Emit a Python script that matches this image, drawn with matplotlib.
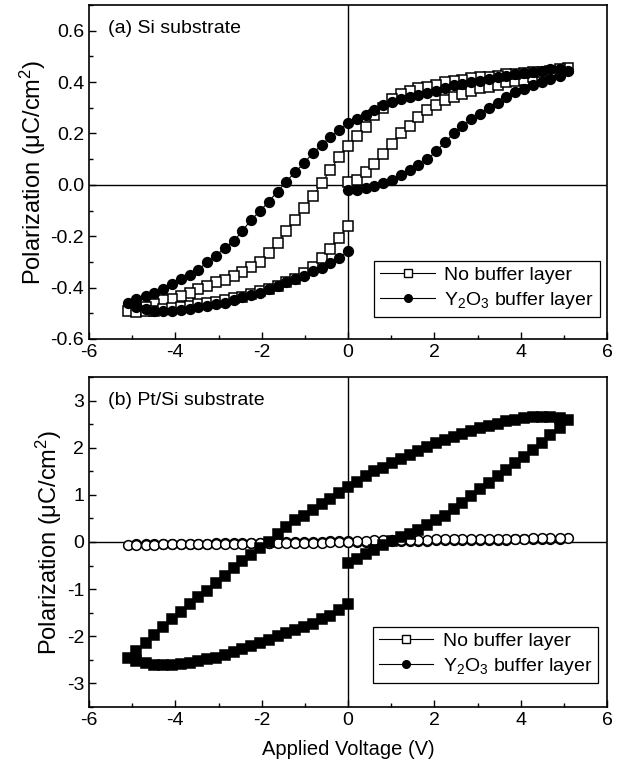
import matplotlib
matplotlib.use("Agg")
import matplotlib.pyplot as plt
from matplotlib.ticker import MultipleLocator

plt.rcParams['font.family'] = ['Liberation Sans', 'DejaVu Sans']
plt.rcParams['mathtext.fontset'] = 'custom'
plt.rcParams['mathtext.rm'] = 'Liberation Sans'
plt.rcParams['mathtext.it'] = 'Liberation Sans:italic'
plt.rcParams['axes.unicode_minus'] = False
plt.rcParams['font.size'] = 14

# voltage sweep of one branch, 0 -> +5.1 V
v_up = [0.0, 0.2, 0.41, 0.61, 0.82, 1.02, 1.22, 1.43, 1.63, 1.84, 2.04, 2.24, 2.45,
        2.65, 2.86, 3.06, 3.26, 3.47, 3.67, 3.88, 4.08, 4.28, 4.49, 4.69, 4.9, 5.1]
# full loop: 0 -> +5.1 -> -5.1 -> 0
v_loop = v_up + v_up[::-1][1:] + [-v for v in v_up[1:]] + [-v for v in v_up[::-1][1:]]

# (a) Si substrate, no buffer layer
a_nobuf_up = [0.01, 0.02, 0.05, 0.08, 0.12, 0.16, 0.2, 0.23, 0.265, 0.29, 0.31, 0.33, 0.34,
              0.355, 0.365, 0.375, 0.38, 0.39, 0.40, 0.405, 0.41, 0.42, 0.425, 0.435, 0.445, 0.455]
a_nobuf_dpos = [0.45, 0.445, 0.44, 0.44, 0.435, 0.43, 0.43, 0.425, 0.42, 0.42, 0.415, 0.41,
                0.405, 0.40, 0.39, 0.38, 0.375, 0.365, 0.355, 0.335, 0.30, 0.27, 0.225, 0.19, 0.15]
a_nobuf_dneg = [0.11, 0.058, 0.006, -0.045, -0.09, -0.135, -0.18, -0.226, -0.264, -0.30, -0.32,
                -0.34, -0.355, -0.37, -0.38, -0.393, -0.406, -0.42, -0.432, -0.445, -0.45,
                -0.464, -0.477, -0.484, -0.49]
a_nobuf_back = [-0.495, -0.49, -0.49, -0.485, -0.48, -0.475, -0.47, -0.465, -0.46, -0.455,
                -0.45, -0.44, -0.435, -0.425, -0.415, -0.405, -0.395, -0.38, -0.365, -0.345,
                -0.32, -0.285, -0.25, -0.205, -0.16]

# (a) Si substrate, Y2O3 buffer layer
a_y2o3_up = [-0.02, -0.02, -0.013, -0.006, 0.006, 0.02, 0.04, 0.058, 0.077, 0.1, 0.13, 0.165,
             0.2, 0.23, 0.255, 0.277, 0.3, 0.32, 0.34, 0.36, 0.374, 0.387, 0.40, 0.413, 0.425, 0.445]
a_y2o3_dpos = [0.452, 0.449, 0.445, 0.44, 0.436, 0.43, 0.425, 0.42, 0.413, 0.406, 0.40, 0.393,
               0.387, 0.376, 0.367, 0.358, 0.35, 0.342, 0.335, 0.322, 0.31, 0.29, 0.27, 0.258, 0.24]
a_y2o3_dneg = [0.213, 0.187, 0.155, 0.123, 0.084, 0.05, 0.013, -0.026, -0.065, -0.103, -0.135,
               -0.18, -0.22, -0.245, -0.277, -0.30, -0.33, -0.35, -0.367, -0.387, -0.406,
               -0.42, -0.432, -0.445, -0.458]
a_y2o3_back = [-0.477, -0.484, -0.49, -0.491, -0.49, -0.486, -0.484, -0.477, -0.47, -0.464,
               -0.458, -0.449, -0.438, -0.428, -0.42, -0.406, -0.393, -0.38, -0.367, -0.355,
               -0.335, -0.322, -0.303, -0.284, -0.258]

# (b) Pt/Si substrate, open circles
b_open_up = [0.0, 0.01, 0.01, 0.02, 0.02, 0.02, 0.03, 0.03, 0.03, 0.03, 0.04, 0.04, 0.04,
             0.04, 0.05, 0.05, 0.05, 0.05, 0.05, 0.06, 0.06, 0.06, 0.06, 0.07, 0.07, 0.08]
b_open_dpos = [0.08, 0.08, 0.08, 0.08, 0.07, 0.07, 0.07, 0.07, 0.07, 0.07, 0.06, 0.06, 0.06,
               0.06, 0.06, 0.05, 0.05, 0.05, 0.05, 0.04, 0.04, 0.04, 0.03, 0.03, 0.03]
b_open_dneg = [0.02, 0.02, 0.01, 0.01, 0.0, 0.0, -0.01, -0.01, -0.02, -0.02, -0.02, -0.03, -0.03,
               -0.03, -0.03, -0.04, -0.04, -0.04, -0.04, -0.05, -0.05, -0.05, -0.05, -0.05, -0.06]
b_open_back = [-0.06, -0.06, -0.06, -0.05, -0.05, -0.05, -0.05, -0.05, -0.04, -0.04, -0.04,
               -0.04, -0.04, -0.03, -0.03, -0.03, -0.03, -0.03, -0.02, -0.02, -0.02, -0.02,
               -0.01, -0.01, -0.01]

# (b) Pt/Si substrate, filled squares
b_fill_up = [-0.44, -0.35, -0.25, -0.16, -0.06, 0.03, 0.11, 0.18, 0.26, 0.36, 0.46, 0.56, 0.69,
             0.83, 0.98, 1.12, 1.26, 1.4, 1.53, 1.67, 1.81, 1.95, 2.09, 2.26, 2.42, 2.58]
b_fill_dpos = [2.64, 2.66, 2.66, 2.65, 2.62, 2.59, 2.56, 2.51, 2.47, 2.42, 2.36, 2.3, 2.23,
               2.16, 2.09, 2.02, 1.93, 1.85, 1.77, 1.67, 1.57, 1.5, 1.4, 1.27, 1.17]
b_fill_dneg = [1.05, 0.91, 0.81, 0.67, 0.56, 0.46, 0.32, 0.18, 0.01, -0.13, -0.27, -0.41, -0.55,
               -0.72, -0.86, -1.03, -1.17, -1.31, -1.49, -1.63, -1.8, -1.97, -2.15, -2.32, -2.46]
b_fill_back = [-2.53, -2.56, -2.6, -2.6, -2.6, -2.58, -2.56, -2.53, -2.49, -2.46, -2.39, -2.33,
               -2.28, -2.21, -2.15, -2.08, -2.0, -1.94, -1.87, -1.8, -1.73, -1.63, -1.56,
               -1.45, -1.31]

a_nobuf = a_nobuf_up + a_nobuf_dpos + a_nobuf_dneg + a_nobuf_back
a_y2o3 = a_y2o3_up + a_y2o3_dpos + a_y2o3_dneg + a_y2o3_back
b_open = b_open_up + b_open_dpos + b_open_dneg + b_open_back
b_fill = b_fill_up + b_fill_dpos + b_fill_dneg + b_fill_back

ylabel = u'Polarization (\u03bcC/cm$^2$)'
leg_labels = ['No buffer layer', 'Y$_2$O$_3$ buffer layer']

fig = plt.figure(figsize=(6.24, 7.78), dpi=100)
W, H = 624.0, 778.0
ax1 = fig.add_axes([89 / W, 1 - 339 / H, 518 / W, 334 / H])
ax2 = fig.add_axes([89 / W, 1 - 707 / H, 518 / W, 330 / H])

mk = dict(markersize=7, markeredgewidth=1.1, color='black', linewidth=0.8)

# panel (a)
ax1.axhline(0, color='black', linewidth=1.0, zorder=1)
ax1.axvline(0, color='black', linewidth=1.0, zorder=1)
ax1.plot(v_loop, a_nobuf, marker='s', markerfacecolor='white', zorder=2, **mk)
ax1.plot(v_loop, a_y2o3, marker='o', markerfacecolor='black', zorder=3, **mk)
ax1.set_ylim(-0.6, 0.7)
ax1.yaxis.set_major_locator(MultipleLocator(0.2))
ax1.yaxis.set_minor_locator(MultipleLocator(0.1))
ax1.yaxis.set_major_formatter(plt.FormatStrFormatter('%.1f'))
ax1.text(0.036, 0.955, '(a) Si substrate', transform=ax1.transAxes, ha='left', va='top')

# panel (b)
ax2.axhline(0, color='black', linewidth=1.0, zorder=1)
ax2.axvline(0, color='black', linewidth=1.0, zorder=1)
ax2.plot(v_loop, b_open, marker='o', markerfacecolor='white', zorder=2, **mk)
ax2.plot(v_loop, b_fill, marker='s', markerfacecolor='black', zorder=3, **mk)
ax2.set_ylim(-3.5, 3.5)
ax2.yaxis.set_major_locator(MultipleLocator(1))
ax2.yaxis.set_minor_locator(MultipleLocator(0.5))
ax2.text(0.036, 0.955, '(b) Pt/Si substrate', transform=ax2.transAxes, ha='left', va='top')
ax2.set_xlabel('Applied Voltage (V)', labelpad=8, fontsize=14.5)

for ax, anchor in [(ax1, (0.986, 0.066)), (ax2, (0.983, 0.073))]:
    ax.set_xlim(-6, 6)
    ax.xaxis.set_major_locator(MultipleLocator(2))
    ax.xaxis.set_minor_locator(MultipleLocator(1))
    ax.tick_params(which='both', direction='in', top=False, right=False, labelsize=14)
    ax.tick_params(which='major', length=5, width=1)
    ax.tick_params(which='minor', length=3, width=1)
    for s in ax.spines.values():
        s.set_linewidth(1.2)
    ax.set_ylabel(ylabel, labelpad=2, fontsize=17)
    h1, = ax.plot([], [], marker='s', markerfacecolor='white', markersize=5.5,
                  markeredgewidth=1.0, color='black', linewidth=0.8)
    h2, = ax.plot([], [], marker='o', markerfacecolor='black', markersize=5.5,
                  markeredgewidth=1.0, color='black', linewidth=0.8)
    leg = ax.legend([h1, h2], leg_labels, loc='lower right', bbox_to_anchor=anchor,
                    borderaxespad=0, fancybox=False, framealpha=1, edgecolor='black',
                    handlelength=2.8, handletextpad=0.5, labelspacing=0.3, borderpad=0.3,
                    fontsize=14)
    leg.get_frame().set_linewidth(0.9)

fig.savefig('out.png', dpi=100)
